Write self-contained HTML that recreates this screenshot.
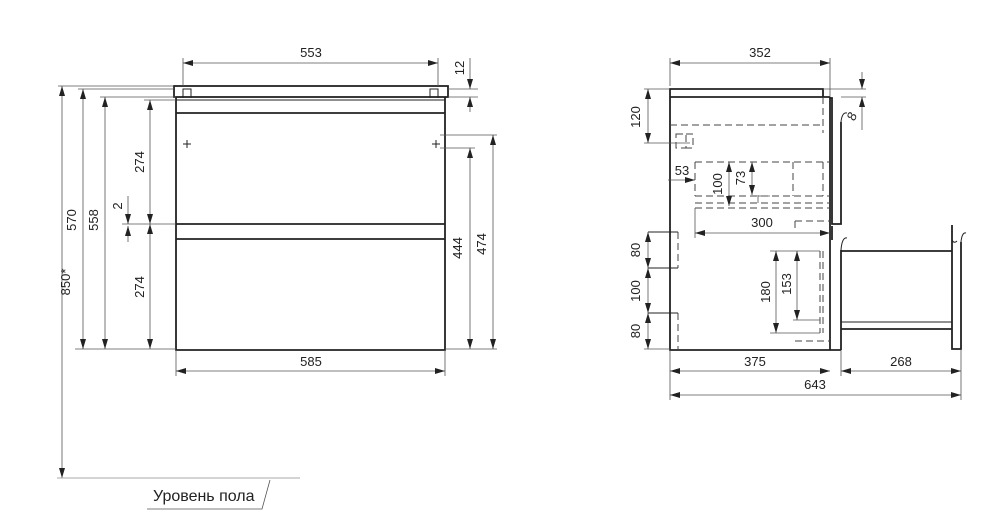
<!DOCTYPE html>
<html><head><meta charset="utf-8"><style>
html,body{margin:0;padding:0;background:#fff;}
svg{display:block;}
text{font-family:"Liberation Sans Narrow","Liberation Sans",sans-serif;font-size:13px;fill:#222;}
.l{stroke:#222;stroke-width:1;fill:none;}
.t{stroke:#222;stroke-width:1.8;fill:none;}
.h{stroke:#555;stroke-width:0.8;fill:none;}
.d{stroke:#444;stroke-width:1;fill:none;stroke-dasharray:7 4;}
</style></head><body>
<svg width="1000" height="521" viewBox="0 0 1000 521" xmlns="http://www.w3.org/2000/svg">
<defs>
<marker id="a" viewBox="0 0 10 6" refX="10" refY="3" markerWidth="10" markerHeight="6" orient="auto-start-reverse" markerUnits="userSpaceOnUse"><path d="M0,0 L10,3 L0,6 z" fill="#222"/></marker>
</defs>
<!-- LEFT VIEW -->
<rect class="t" x="174" y="86" width="274" height="11"/>
<path class="l" d="M183,98 V89 H191 V98 M430,98 V89 H438 V98"/>
<path class="t" d="M176,97 V350 H445 V97"/>
<line class="l" x1="176" y1="100" x2="445" y2="100"/>
<line class="t" x1="176" y1="113" x2="445" y2="113"/>
<line class="t" x1="176" y1="224" x2="445" y2="224"/>
<line class="t" x1="176" y1="239" x2="445" y2="239"/>
<path class="l" d="M183,144 h8 M187,140 v8 M432,144 h8 M436,140 v8"/>
<!-- 553 -->
<path class="h" d="M183,86 V58 M438,86 V58"/>
<line class="h" x1="183" y1="63" x2="438" y2="63" marker-start="url(#a)" marker-end="url(#a)"/>
<text x="311" y="57" text-anchor="middle">553</text>
<!-- 12 -->
<path class="h" d="M448,89 H478 M448,97 H478"/>
<line class="h" x1="470" y1="58" x2="470" y2="89" marker-end="url(#a)"/>
<line class="h" x1="470" y1="112" x2="470" y2="97" marker-end="url(#a)"/>
<text transform="translate(464,68) rotate(-90)" text-anchor="middle">12</text>
<!-- left dims -->
<path class="h" d="M58,86 H174 M78,89 H174 M100,97 H176 M144,100 H176 M75,349 H176"/>
<line class="h" x1="62" y1="86" x2="62" y2="478" marker-start="url(#a)" marker-end="url(#a)"/>
<line class="h" x1="83" y1="89" x2="83" y2="349" marker-start="url(#a)" marker-end="url(#a)"/>
<line class="h" x1="105" y1="97" x2="105" y2="349" marker-start="url(#a)" marker-end="url(#a)"/>
<line class="h" x1="150" y1="100" x2="150" y2="224" marker-start="url(#a)" marker-end="url(#a)"/>
<line class="h" x1="150" y1="224" x2="150" y2="349" marker-start="url(#a)" marker-end="url(#a)"/>
<text transform="translate(70,282) rotate(-90)" text-anchor="middle">850*</text>
<text transform="translate(76,220) rotate(-90)" text-anchor="middle">570</text>
<text transform="translate(98,220) rotate(-90)" text-anchor="middle">558</text>
<text transform="translate(144,162) rotate(-90)" text-anchor="middle">274</text>
<text transform="translate(144,287) rotate(-90)" text-anchor="middle">274</text>
<!-- 2 -->
<line class="h" x1="122" y1="224" x2="176" y2="224"/>
<line class="h" x1="128" y1="196" x2="128" y2="224" marker-end="url(#a)"/>
<line class="h" x1="128" y1="242" x2="128" y2="226" marker-end="url(#a)"/>
<text transform="translate(122,206) rotate(-90)" text-anchor="middle">2</text>
<!-- 444 / 474 -->
<path class="h" d="M440,135 H497 M440,148 H475 M445,349 H497"/>
<line class="h" x1="470" y1="148" x2="470" y2="349" marker-start="url(#a)" marker-end="url(#a)"/>
<line class="h" x1="493" y1="135" x2="493" y2="349" marker-start="url(#a)" marker-end="url(#a)"/>
<text transform="translate(462,248) rotate(-90)" text-anchor="middle">444</text>
<text transform="translate(486,244) rotate(-90)" text-anchor="middle">474</text>
<!-- 585 -->
<path class="h" d="M176,350 V376 M445,350 V376"/>
<line class="h" x1="176" y1="371" x2="445" y2="371" marker-start="url(#a)" marker-end="url(#a)"/>
<text x="311" y="366" text-anchor="middle">585</text>
<!-- floor -->
<line x1="57" y1="478" x2="300" y2="478" stroke="#aaa" stroke-width="1"/>
<path class="h" d="M147,509 H262 L270,480"/>
<text x="153" y="501" style="font-size:16px">Уровень пола</text>

<!-- RIGHT VIEW -->
<path class="t" d="M670,97 V89 H823 V97"/>
<path class="t" d="M670,97 H830 M670,97 V350 H841 M830,97 V350"/>
<!-- upper front -->
<path class="t" d="M830,98 H832 V224 H841 V122"/>
<path class="l" d="M841,122 Q842,112 847,113"/>
<!-- lower front -->
<path class="t" d="M832,226 V240 M841,250 V350"/>
<path class="l" d="M841,250 Q842,237 847,238"/>
<!-- pulled drawer -->
<path class="t" d="M841,251 H952 M841,329 H952"/>
<line class="l" x1="841" y1="322" x2="952" y2="322"/>
<path class="t" d="M952,225 V349 H961 V242"/>
<path class="l" d="M961,242 Q962,232 966,233 M952,240 Q954,244 957,241"/>
<!-- dashed -->
<path class="d" d="M670,125 H823 M823,97 V133"/>
<path class="d" d="M676,134 H686 V148 H676 Z M686,134 H693 V148 H686"/>
<path class="d" d="M695,162 H830 M695,162 V196 M793,162 V196 M823,162 V196 M695,196 H830 M695,203 H830 M695,208 H830"/>
<path class="d" d="M795,221 H830 M795,228 V221"/>
<path class="d" d="M678,232 V268 M678,313 V349 M795,341 H830"/>
<path class="d" d="M820,251 V333 M823,251 V333"/>
<path class="l" d="M648,268 H678 M648,313 H678 M648,232 H678"/>
<!-- 352 -->
<path class="h" d="M670,86 V58 M830,97 V58"/>
<line class="h" x1="670" y1="63" x2="830" y2="63" marker-start="url(#a)" marker-end="url(#a)"/>
<text x="760" y="57" text-anchor="middle">352</text>
<!-- 8 -->
<path class="h" d="M823,89 H866 M841,97 H866"/>
<line class="h" x1="862" y1="72" x2="862" y2="89" marker-end="url(#a)"/>
<line class="h" x1="862" y1="130" x2="862" y2="97" marker-end="url(#a)"/>
<text transform="translate(856,118) rotate(-70)" text-anchor="middle" style="font-style:italic">8</text>
<!-- 120 -->
<path class="h" d="M644,89 H670 M644,143 H690"/>
<line class="h" x1="648" y1="89" x2="648" y2="143" marker-start="url(#a)" marker-end="url(#a)"/>
<text transform="translate(640,117) rotate(-90)" text-anchor="middle">120</text>
<!-- 80/100/80 -->
<path class="h" d="M644,349 H670"/>
<line class="h" x1="648" y1="232" x2="648" y2="268" marker-start="url(#a)" marker-end="url(#a)"/>
<line class="h" x1="648" y1="268" x2="648" y2="313" marker-start="url(#a)" marker-end="url(#a)"/>
<line class="h" x1="648" y1="313" x2="648" y2="349" marker-start="url(#a)" marker-end="url(#a)"/>
<text transform="translate(640,250) rotate(-90)" text-anchor="middle">80</text>
<text transform="translate(640,291) rotate(-90)" text-anchor="middle">100</text>
<text transform="translate(640,331) rotate(-90)" text-anchor="middle">80</text>
<!-- 53 -->
<line class="h" x1="668" y1="180" x2="695" y2="180" marker-end="url(#a)"/>
<text x="682" y="175" text-anchor="middle">53</text>
<!-- 100 / 73 -->
<line class="h" x1="729" y1="162" x2="729" y2="206" marker-start="url(#a)" marker-end="url(#a)"/>
<line class="h" x1="752" y1="162" x2="752" y2="195" marker-start="url(#a)" marker-end="url(#a)"/>
<path class="h" d="M758,195 V203 M758,196 H770"/>
<text transform="translate(722,184) rotate(-90)" text-anchor="middle">100</text>
<text transform="translate(745,178) rotate(-90)" text-anchor="middle">73</text>
<!-- 300 -->
<path class="h" d="M695,208 V238"/>
<line class="h" x1="695" y1="233" x2="830" y2="233" marker-start="url(#a)" marker-end="url(#a)"/>
<text x="762" y="227" text-anchor="middle">300</text>
<!-- 180 / 153 -->
<path class="h" d="M770,251 H820 M770,333 H820 M793,320 H820"/>
<line class="h" x1="776" y1="251" x2="776" y2="333" marker-start="url(#a)" marker-end="url(#a)"/>
<line class="h" x1="797" y1="251" x2="797" y2="320" marker-start="url(#a)" marker-end="url(#a)"/>
<text transform="translate(770,292) rotate(-90)" text-anchor="middle">180</text>
<text transform="translate(791,284) rotate(-90)" text-anchor="middle">153</text>
<!-- bottom dims -->
<path class="h" d="M670,350 V400 M841,350 V376 M961,350 V400"/>
<line class="h" x1="670" y1="371" x2="830" y2="371" marker-start="url(#a)" marker-end="url(#a)"/>
<line class="h" x1="841" y1="371" x2="961" y2="371" marker-start="url(#a)" marker-end="url(#a)"/>
<line class="h" x1="670" y1="395" x2="961" y2="395" marker-start="url(#a)" marker-end="url(#a)"/>
<text x="755" y="366" text-anchor="middle">375</text>
<text x="901" y="366" text-anchor="middle">268</text>
<text x="815" y="389" text-anchor="middle">643</text>
</svg>
</body></html>
